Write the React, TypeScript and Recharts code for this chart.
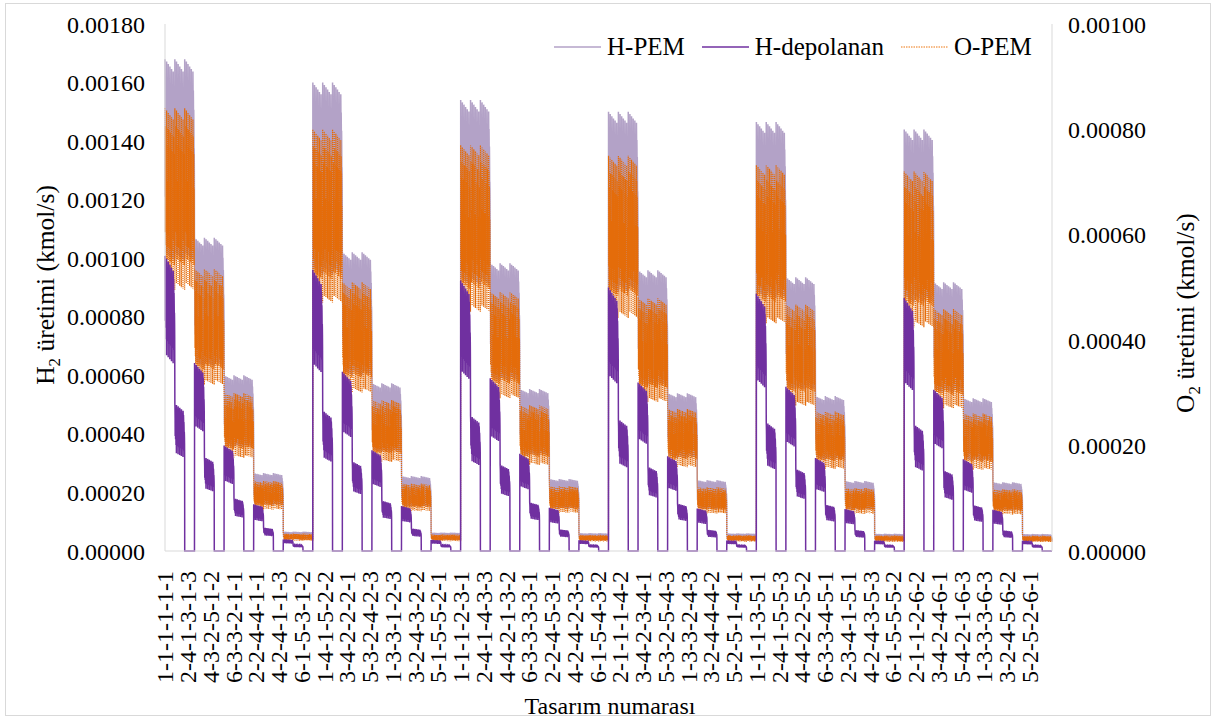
import React from "react";
import { Line, LineChart, XAxis, YAxis } from "recharts";

// design factors: label is a-b-c-d-e-f, data ordered e > c > f > a > b > d
const levelsA = [1, 2, 3, 4, 5, 6];
const levelsB = [1, 2, 3, 4];
const levelsC = [1, 2, 3, 4, 5];
const levelsD = [1, 2, 3, 4, 5];
const levelsE = [1, 2, 3, 4, 5, 6];
const levelsF = [1, 2, 3];

// tick labels as printed under the axis
const tickLabels = [
  "1-1-1-1-1-1", "2-4-1-3-1-3", "4-3-2-5-1-2", "6-3-3-2-1-1", "2-2-4-4-1-1", "4-2-4-1-1-3", "6-1-5-3-1-2",
  "1-4-1-5-2-2", "3-4-2-2-2-1", "5-3-2-4-2-3", "1-3-3-1-2-3", "3-2-4-3-2-2", "5-1-5-5-2-1",
  "1-1-1-2-3-1", "2-4-1-4-3-3", "4-4-2-1-3-2", "6-3-3-3-3-1", "2-2-4-5-3-1", "4-2-4-2-3-3", "6-1-5-4-3-2",
  "2-1-1-1-4-2", "3-4-2-3-4-1", "5-3-2-5-4-3", "1-3-3-2-4-3", "3-2-4-4-4-2", "5-2-5-1-4-1",
  "1-1-1-3-5-1", "2-4-1-5-5-3", "4-4-2-2-5-2", "6-3-3-4-5-1", "2-3-4-1-5-1", "4-2-4-3-5-3", "6-1-5-5-5-2",
  "2-1-1-2-6-2", "3-4-2-4-6-1", "5-4-2-1-6-3", "1-3-3-3-6-3", "3-2-4-5-6-2", "5-2-5-2-6-1",
];

// H-PEM peak (kmol/s) of each block, rows = e, columns = c
const hPemPeak = [
  [0.00168, 0.00107, 0.000600, 0.000266, 0.000066],
  [0.00160, 0.00102, 0.000573, 0.000256, 0.000063],
  [0.00154, 0.000983, 0.000553, 0.000246, 0.000061],
  [0.00150, 0.000959, 0.000539, 0.000242, 0.000060],
  [0.001465, 0.000935, 0.000529, 0.000239, 0.000059],
  [0.00144, 0.000918, 0.000522, 0.000235, 0.000058],
];
// relative level inside a block
const hPemByA = [1, 0.995, 0.99, 0.985, 0.98, 0.975];
const hPemByB = [1, 0.96, 0.92, 0.84];
const hPemByD = [1, 0.98, 0.95, 0.9, 0.72];
// share of H-PEM reached by the depolarised stack, by f
const depShareByF = [0.6, 0.3, 0];
const depByA = [1, 0.99, 0.98, 0.97, 0.96, 0.95];
const depByB = [1, 0.97, 0.92, 0.85];
const depByD = [1, 0.98, 0.95, 0.9, 0.78];

const leftTicks = [0, 0.0002, 0.0004, 0.0006, 0.0008, 0.001, 0.0012, 0.0014, 0.0016, 0.0018];
const rightTicks = [0, 0.0002, 0.0004, 0.0006, 0.0008, 0.001];

const FONT = "'Liberation Serif', 'DejaVu Serif', serif";
const C_HPEM = "#b3a2c7";
const C_DEP = "#7030a0";
const C_OPEM = "#e46c0a";

type Row = { i: number; name: string; hPem: number; hDep: number; oPem: number };

const rows: Row[] = [];
levelsE.forEach((e, ei) =>
  levelsC.forEach((c, ci) =>
    levelsF.forEach((f, fi) =>
      levelsA.forEach((a, ai) =>
        levelsB.forEach((b, bi) =>
          levelsD.forEach((d, di) => {
            const peak = hPemPeak[ei][ci];
            const hPem = peak * hPemByA[ai] * hPemByB[bi] * hPemByD[di];
            const hDep = peak * depShareByF[fi] * depByA[ai] * depByB[bi] * depByD[di];
            rows.push({ i: rows.length, name: `${a}-${b}-${c}-${d}-${e}-${f}`, hPem, hDep, oPem: hPem / 2 });
          })
        )
      )
    )
  )
);

const tickIndex = tickLabels.map((l) => rows.findIndex((r) => r.name === l));

function XTick({ x, y, payload }: any) {
  const label = rows[payload.value]?.name ?? "";
  return (
    <text x={x} y={y + 12} transform={`rotate(-90, ${x}, ${y + 12})`} textAnchor="end" dy="0.35em"
      fontSize={24} fontFamily={FONT} fill="#000">
      {label}
    </text>
  );
}

const legendItems = [
  { name: "H-PEM", color: C_HPEM, dash: undefined, width: 1.5 },
  { name: "H-depolanan", color: C_DEP, dash: undefined, width: 1.5 },
  { name: "O-PEM", color: "#f4a460", dash: "1.5 1", width: 1.5 },
];

function LegendBox() {
  return (
    <div style={{ position: "absolute", left: 554, top: 32, display: "flex", alignItems: "center",
      fontFamily: FONT, fontSize: 25, color: "#000", lineHeight: "30px" }}>
      {legendItems.map((it) => (
        <div key={it.name} style={{ display: "flex", alignItems: "center", marginRight: 17 }}>
          <svg width={47} height={4} style={{ marginRight: 6 }}>
            <line x1={0} x2={47} y1={2} y2={2} stroke={it.color} strokeWidth={it.width} strokeDasharray={it.dash} />
          </svg>
          <span>{it.name}</span>
        </div>
      ))}
    </div>
  );
}

export default function App() {
  return (
    <div style={{ position: "absolute", left: 0, top: 0, width: 1215, height: 719, background: "#fff" }}>
      <div style={{ position: "absolute", left: 5, top: 3, width: 1204, height: 711, border: "1px solid #d9d9d9" }} />
      <LineChart width={1215} height={719} data={rows} margin={{ top: 24, right: 0, bottom: 0, left: 0 }}>
        <XAxis dataKey="i" type="number" domain={[0, rows.length - 1]} ticks={tickIndex} interval={0}
          tick={<XTick />} tickLine={false} axisLine={{ stroke: "#d9d9d9" }} height={168} />
        <YAxis yAxisId="left" domain={[0, 0.0018]} ticks={leftTicks} interval={0} width={165}
          tickFormatter={(v: number) => v.toFixed(5)} tickLine={false} tickSize={0} tickMargin={20}
          axisLine={{ stroke: "#d9d9d9" }} tick={{ fontSize: 24, fill: "#000", fontFamily: FONT }} />
        <YAxis yAxisId="right" orientation="right" domain={[0, 0.001]} ticks={rightTicks} interval={0} width={163}
          tickFormatter={(v: number) => v.toFixed(5)} tickLine={false} tickSize={0} tickMargin={16}
          axisLine={{ stroke: "#d9d9d9" }} tick={{ fontSize: 24, fill: "#000", fontFamily: FONT }} />
        <Line yAxisId="left" dataKey="hPem" name="H-PEM" stroke={C_HPEM} strokeWidth={1.5} dot={false}
          type="linear" isAnimationActive={false} />
        <Line yAxisId="right" dataKey="oPem" name="O-PEM" stroke={C_OPEM} strokeWidth={1.2} strokeDasharray="1 1"
          dot={false} type="linear" isAnimationActive={false} />
        <Line yAxisId="left" dataKey="hDep" name="H-depolanan" stroke={C_DEP} strokeWidth={1.5} dot={false}
          type="linear" isAnimationActive={false} />
        <text x={45} y={285} transform="rotate(-90, 45, 285)" textAnchor="middle" dy="0.35em"
          fontSize={25.5} fontFamily={FONT} fill="#000">
          H<tspan fontSize={17} dy={6}>2</tspan><tspan dy={-6}> üretimi (kmol/s)</tspan>
        </text>
        <text x={1185} y={313} transform="rotate(-90, 1185, 313)" textAnchor="middle" dy="0.35em"
          fontSize={25.5} fontFamily={FONT} fill="#000">
          O<tspan fontSize={17} dy={6}>2</tspan><tspan dy={-6}> üretimi (kmol/s)</tspan>
        </text>
        <text x={610} y={714} textAnchor="middle" fontSize={24} fontFamily={FONT} fill="#000">
          Tasarım numarası
        </text>
      </LineChart>
      <LegendBox />
    </div>
  );
}
